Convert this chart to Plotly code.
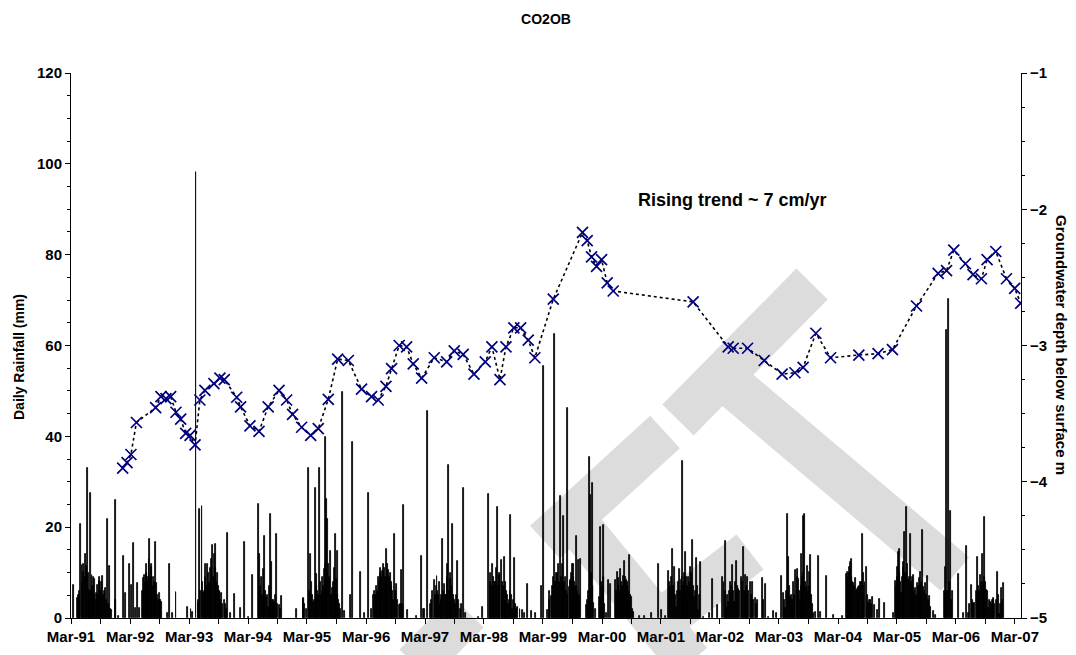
import pandas as pd
import plotly.graph_objects as go

# ---------------- data ----------------
BASE_DATE = "1991-03-01"          # day 0 of the day counts below

# groundwater level observations: days since 1 Mar 1991, depth below surface (m)
gw_day = [320, 347, 371, 405, 524, 557, 588, 617, 650, 679, 710, 737, 768, 798, 829,
          885, 922, 949, 1026, 1050, 1108, 1164, 1221, 1288, 1335, 1372, 1428, 1484,
          1531, 1593, 1651, 1717, 1799, 1861, 1902, 1950, 1985, 2032, 2078, 2119, 2171,
          2249, 2326, 2373, 2428, 2495, 2565, 2606, 2656, 2693, 2742, 2784, 2831, 2872,
          2986, 3167, 3196, 3223, 3254, 3285, 3320, 3357, 3852, 4069, 4100, 4189, 4292,
          4403, 4482, 4533, 4612, 4703, 4878, 4997, 5086, 5235, 5369, 5421, 5466, 5538,
          5585, 5637, 5672, 5726, 5792, 5843, 5880]
gw_depth = [-3.90, -3.86, -3.80, -3.565, -3.456, -3.375, -3.39, -3.375, -3.49, -3.54,
            -3.645, -3.66, -3.73, -3.40, -3.33, -3.28, -3.24, -3.25, -3.38, -3.45,
            -3.59, -3.63, -3.45, -3.33, -3.40, -3.505, -3.60, -3.66, -3.61, -3.395,
            -3.10, -3.11, -3.32, -3.375, -3.40, -3.30, -3.17, -3.00, -3.01, -3.135,
            -3.24, -3.09, -3.12, -3.04, -3.065, -3.21, -3.12, -3.01, -3.25, -3.01,
            -2.87, -2.87, -2.96, -3.09, -2.66, -2.17, -2.23, -2.35, -2.42, -2.37,
            -2.54, -2.60, -2.68, -3.01, -3.02, -3.02, -3.11, -3.21, -3.20, -3.16,
            -2.91, -3.09, -3.07, -3.06, -3.03, -2.71, -2.47, -2.45, -2.30, -2.40,
            -2.48, -2.51, -2.37, -2.31, -2.51, -2.58, -2.69]

# daily rainfall: (days since 1 Mar 1991, mm)
rain_1991_95 = [(14,7.3),(41,4.3),(46,5.0),(50,4.8),(55,6.0),(60,20.8),(68,11.7),(72,8.0),(76,10.2),(80,12.0),(87,14.2),(92,9.0),(97,11.5),(103,33.1),(108,10.0),(113,6.2),(117,5.5),(122,27.6),(126,6.0),(130,9.5),(134,7.0),(138,9.1),(143,5.0),(148,8.5),(155,5.4),(160,4.0),(165,7.3),(170,5.0),(174,9.0),(179,8.2),(185,6.0),(190,8.0),(196,9.2),(201,5.0),(206,6.0),(212,6.5),(218,4.0),(227,21.8),(232,3.0),(237,11.5),(242,2.0),(248,1.8),(274,4.0),(278,25.9),(293,0.5),(324,13.7),(336,5.6),(363,11.8),(373,7.3),(386,16.5),(398,2.1),(413,7.6),(427,2.3),(440,6.0),(448,8.7),(452,7.0),(458,9.5),(462,8.0),(466,12.0),(470,10.0),(474,9.1),(478,8.0),(483,13.0),(487,17.5),(492,9.0),(496,12.0),(501,11.3),(505,7.0),(510,9.1),(515,8.0),(520,6.0),(524,16.8),(530,7.6),(535,5.0),(540,4.0),(547,5.4),(552,3.0),(557,4.0),(563,3.6),(598,1.0),(611,12.0),(629,1.0),(650,5.7),(722,2.5),(743,1.9),(753,1.4),(774,98.2),(788,3.4),(792,4.0),(798,24.1),(803,6.0),(811,24.7),(816,8.0),(821,5.4),(826,6.0),(830,9.0),(835,12.0),(840,7.0),(846,12.0),(850,10.0),(856,7.6),(861,8.0),(866,11.0),(871,13.1),(877,16.1),(882,9.0),(887,14.2),(892,11.0),(897,16.4),(902,8.0),(908,9.8),(913,7.0),(917,6.0),(922,5.8),(928,4.0),(934,5.4),(940,3.0),(949,4.0),(955,3.0),(960,2.0),(970,18.7),(990,1.0),(1015,5.3),(1048,2.3),(1075,16.7),(1100,0.3),(1124,9.5),(1161,25.1),(1165,6.0),(1170,14.2),(1176,7.0),(1182,9.1),(1186,5.0),(1190,10.9),(1195,8.0),(1201,18.1),(1206,6.0),(1211,4.7),(1216,5.0),(1221,2.5),(1228,7.0),(1234,22.9),(1238,6.0),(1242,12.3),(1247,4.0),(1252,4.0),(1256,3.0),(1260,3.6),(1266,5.0),(1273,18.6),(1280,3.0),(1289,2.9),(1295,2.0),(1306,4.8),(1397,1.9),(1438,4.2)]

rain_1995_99 = [(1440,4.3),(1445,3.0),(1460,2.0),(1471,33.0),(1476,6.0),(1482,14.2),(1488,8.0),(1496,5.0),(1502,3.6),(1507,4.0),(1513,28.6),(1518,7.0),(1523,9.7),(1528,6.0),(1533,5.0),(1539,33.1),(1544,8.0),(1550,5.1),(1555,6.0),(1558,9.0),(1563,7.0),(1568,10.9),(1574,39.9),(1577,12.0),(1581,26.3),(1585,10.0),(1589,21.8),(1595,12.0),(1600,9.0),(1605,14.8),(1612,5.0),(1616,5.0),(1620,6.5),(1625,8.0),(1630,11.0),(1636,18.6),(1640,6.0),(1645,8.5),(1649,5.0),(1653,14.7),(1658,4.0),(1663,3.0),(1668,2.0),(1678,49.8),(1692,1.5),(1729,5.0),(1742,38.7),(1791,10.2),(1818,1.0),(1843,27.6),(1859,2.0),(1874,5.0),(1879,6.0),(1884,5.1),(1889,7.0),(1894,4.5),(1899,6.0),(1904,9.0),(1909,8.0),(1914,10.0),(1919,11.0),(1924,9.0),(1929,10.4),(1935,12.0),(1940,11.0),(1946,9.0),(1951,8.0),(1956,15.3),(1961,12.0),(1966,10.6),(1971,9.0),(1977,10.0),(1982,7.0),(1987,8.0),(1992,6.0),(1997,4.0),(2003,18.6),(2009,6.0),(2016,7.5),(2022,4.0),(2032,2.8),(2038,3.0),(2045,10.6),(2052,3.0),(2059,24.8),(2086,1.8),(2142,0.5),(2173,13.7),(2183,2.0),(2190,2.0),(2210,45.6),(2224,3.0),(2230,4.0),(2240,6.0),(2251,8.4),(2256,5.0),(2261,7.0),(2266,9.3),(2271,6.0),(2276,5.0),(2281,8.0),(2286,3.0),(2291,4.0),(2296,5.0),(2301,17.4),(2306,6.0),(2313,7.4),(2318,5.0),(2323,5.0),(2328,9.0),(2333,12.0),(2338,33.6),(2343,6.0),(2347,10.0),(2352,8.5),(2357,7.0),(2365,20.6),(2370,5.0),(2374,4.0),(2379,3.0),(2385,5.0),(2395,12.5),(2400,4.0),(2410,2.0),(2420,3.0),(2431,28.7),(2441,1.0),(2523,0.3),(2548,2.5),(2585,27.4),(2595,8.0),(2600,10.0),(2605,7.0),(2610,11.9),(2615,9.0),(2620,8.0),(2630,8.0),(2635,11.0),(2641,24.5),(2646,7.0),(2651,9.5),(2656,10.0),(2664,12.7),(2669,8.0),(2674,4.0),(2678,7.0),(2682,13.5),(2688,8.0),(2693,4.0),(2698,6.0),(2704,5.0),(2709,3.0),(2714,4.0),(2718,6.0),(2723,22.6),(2728,5.0),(2734,2.0),(2740,4.0),(2746,13.3),(2752,3.0),(2760,2.0),(2767,2.5),(2780,2.0),(2798,1.8),(2810,1.0),(2829,7.5),(2849,1.5),(2874,1.0)]

rain_1999_03 = [(2916,7.0),(2926,55.5),(2953,1.8),(2960,4.0),(2965,6.0),(2974,4.8),(2980,7.0),(2988,9.0),(2996,62.5),(3000,8.0),(3007,9.8),(3012,10.0),(3019,11.8),(3025,8.0),(3031,26.9),(3036,9.0),(3042,12.0),(3047,7.0),(3052,22.5),(3057,8.0),(3062,9.1),(3067,6.0),(3072,5.0),(3077,46.2),(3085,6.9),(3090,8.0),(3095,8.4),(3100,10.0),(3106,12.0),(3110,9.0),(3114,12.0),(3119,8.0),(3124,6.9),(3128,7.0),(3132,18.1),(3138,6.0),(3143,12.8),(3148,5.0),(3155,12.9),(3194,2.9),(3200,4.0),(3205,6.0),(3211,35.5),(3215,8.0),(3219,27.1),(3224,10.0),(3227,29.7),(3232,7.0),(3238,3.2),(3245,2.0),(3273,4.7),(3281,20.1),(3286,8.0),(3291,6.9),(3295,9.0),(3299,20.4),(3305,3.0),(3316,1.0),(3330,8.4),(3343,7.5),(3372,8.4),(3377,6.0),(3382,10.2),(3387,7.0),(3392,8.7),(3397,6.0),(3403,10.7),(3408,8.0),(3411,6.2),(3415,7.0),(3419,9.2),(3424,8.0),(3429,12.6),(3434,9.0),(3440,8.4),(3444,7.0),(3448,8.0),(3453,6.0),(3460,13.9),(3465,5.0),(3471,4.7),(3476,2.0),(3485,1.4),(3520,0.4),(3551,0.4),(3597,1.0),(3638,11.8),(3654,1.8),(3679,0.4),(3702,10.3),(3708,8.0),(3714,6.9),(3720,9.0),(3726,15.1),(3731,7.0),(3737,11.3),(3742,5.0),(3749,2.5),(3755,6.0),(3762,8.0),(3768,10.7),(3773,6.0),(3778,8.4),(3783,9.0),(3788,34.6),(3792,7.0),(3797,9.8),(3800,8.0),(3805,14.5),(3810,9.0),(3815,4.0),(3820,7.0),(3826,9.1),(3831,8.0),(3836,11.3),(3842,10.0),(3848,17.2),(3853,7.0),(3861,4.7),(3866,6.0),(3873,13.3),(3878,7.0),(3885,1.8),(3891,5.0),(3900,12.4),(3918,0.3),(3953,1.2),(3972,8.5),(4005,2.9),(4036,9.1),(4043,8.0),(4050,17.0),(4055,6.0),(4061,2.5),(4066,5.0),(4073,3.6),(4080,6.0),(4086,8.0),(4092,7.0),(4098,11.7),(4103,6.0),(4108,3.6),(4115,8.0),(4123,12.6),(4128,7.0),(4133,6.3),(4140,6.0),(4149,9.1),(4156,8.0),(4164,15.7),(4169,6.0),(4174,9.5),(4180,7.0),(4185,5.0),(4191,9.0),(4197,6.0),(4207,8.0),(4213,5.0),(4222,8.0),(4228,4.0),(4236,4.3),(4242,3.0),(4248,4.0),(4283,8.7),(4290,4.0),(4300,7.4),(4319,0.3),(4350,1.5),(4366,1.2)]

rain_2003_07 = [(4397,9.2),(4410,5.4),(4415,4.0),(4424,2.1),(4430,6.0),(4437,23.0),(4445,13.5),(4450,7.0),(4455,4.7),(4460,5.0),(4465,2.9),(4470,4.0),(4476,8.0),(4482,5.1),(4488,10.6),(4496,10.7),(4500,9.0),(4507,8.5),(4512,6.0),(4517,4.0),(4521,7.0),(4525,14.0),(4530,9.0),(4534,22.5),(4538,10.0),(4542,22.8),(4547,8.0),(4552,6.5),(4557,7.0),(4562,11.5),(4566,6.0),(4571,10.2),(4575,7.0),(4579,13.9),(4585,5.0),(4590,3.0),(4595,1.0),(4610,1.4),(4631,13.7),(4641,1.4),(4678,9.3),(4723,0.7),(4775,0.4),(4802,9.6),(4806,8.0),(4810,10.2),(4814,9.0),(4818,11.3),(4822,10.0),(4827,12.4),(4831,9.0),(4835,12.9),(4840,8.0),(4847,7.6),(4852,7.0),(4857,8.9),(4863,6.0),(4868,6.3),(4873,5.0),(4878,6.9),(4883,7.0),(4888,8.0),(4895,8.0),(4901,18.4),(4905,7.0),(4909,10.0),(4916,8.0),(4923,11.2),(4929,5.0),(4936,3.2),(4943,4.0),(4950,4.0),(4958,3.0),(4965,4.6),(4977,2.9),(4992,1.8),(5004,4.1),(5037,3.2),(5091,1.0),(5103,8.1),(5110,7.0),(5115,11.3),(5120,9.0),(5124,14.5),(5128,10.0),(5132,15.3),(5137,8.0),(5142,5.4),(5147,9.0),(5152,12.4),(5157,11.0),(5163,19.0),(5168,10.0),(5173,24.4),(5178,12.0),(5183,8.4),(5190,9.0),(5198,18.6),(5203,8.0),(5208,9.1),(5213,7.0),(5218,9.5),(5224,6.0),(5229,6.5),(5234,5.0),(5239,7.6),(5245,7.0),(5254,8.7),(5258,6.0),(5262,10.2),(5267,8.0),(5272,19.4),(5280,6.9),(5285,6.0),(5291,7.6),(5297,5.0),(5303,9.2),(5308,4.0),(5313,4.8),(5322,2.5),(5338,1.6),(5353,0.7),(5408,6.0),(5413,5.0),(5417,11.3),(5423,63.4),(5428,6.0),(5431,70.2),(5438,8.0),(5445,23.6),(5452,4.0),(5460,5.9),(5497,9.7),(5524,1.0),(5544,15.9),(5559,1.0),(5565,3.0),(5577,7.3),(5582,4.0),(5588,3.2),(5596,3.4),(5605,6.0),(5613,13.5),(5617,7.0),(5621,4.7),(5626,6.0),(5631,9.5),(5636,8.0),(5641,14.2),(5648,7.6),(5653,9.0),(5658,22.3),(5662,8.0),(5666,6.2),(5672,6.0),(5683,2.1),(5688,4.0),(5693,3.6),(5698,3.0),(5703,4.0),(5709,4.0),(5714,4.3),(5720,3.0),(5730,4.0),(5738,10.1),(5743,5.0),(5749,0.8),(5755,3.0),(5761,6.5),(5767,4.0),(5773,7.8)]

x_range_days = [0, 5882]
y_rain_range = [0, 120]
y_gw_range = [-5, -1]

# ---------------- build ----------------
base = pd.Timestamp(BASE_DATE)
rain = rain_1991_95 + rain_1995_99 + rain_1999_03 + rain_2003_07
rain_dates = [base + pd.Timedelta(days=d) for d, _ in rain]
rain_mm = [v for _, v in rain]
gw_dates = [base + pd.Timedelta(days=d) for d in gw_day]

FONT = "Liberation Sans, Arial, sans-serif"
DAY_MS = 86400000
W, H = 1076, 655

fig = go.Figure()
fig.add_trace(go.Bar(
    x=rain_dates, y=rain_mm, width=6 * DAY_MS,
    marker=dict(color="black", line=dict(color="black", width=0.8)),
    yaxis="y", showlegend=False, hoverinfo="x+y"))
fig.add_trace(go.Scatter(
    x=gw_dates, y=gw_depth, mode="lines+markers", yaxis="y2",
    line=dict(color="black", width=1.6, dash="dot"),
    marker=dict(symbol="x-thin", size=11, color="#000080",
                line=dict(color="#000080", width=1.7)),
    showlegend=False))

# decorative grey watermark bands (figure pixel coordinates)
L, R, T, B = 71, 1021, 73, 618
def px(x, y):
    return (x - L) / (R - L), (B - y) / (B - T)
bands = [((678, 420), (812, 284)), ((665, 432), (545, 542)), ((735, 388), (955, 574)),
         ((572, 518), (690, 662)), ((652, 628), (750, 552)), ((468, 612), (415, 665))]
shapes = []
for (a, b) in bands:
    x0, y0 = px(*a)
    x1, y1 = px(*b)
    shapes.append(dict(type="line", xref="paper", yref="paper", x0=x0, y0=y0, x1=x1, y1=y1,
                       line=dict(color="#dcdcdc", width=44), layer="below"))

tick_font = dict(family=FONT, size=15, color="black", weight="bold")
fig.update_layout(
    width=W, height=H,
    margin=dict(l=L, r=W - R, t=T, b=H - B, autoexpand=False),
    paper_bgcolor="white", plot_bgcolor="rgba(0,0,0,0)",
    bargap=0,
    title=dict(text="CO2OB", x=546 / W, xanchor="center", y=1 - 19 / H, yanchor="middle",
               font=dict(family=FONT, size=14, color="black", weight="bold")),
    xaxis=dict(type="date",
               range=[base + pd.Timedelta(days=x_range_days[0]), base + pd.Timedelta(days=x_range_days[1])],
               tick0=BASE_DATE, dtick="M12", tickformat="%b-%y",
               ticks="outside", ticklen=5, tickwidth=1, tickcolor="black",
               minor=dict(dtick="M6", tick0=BASE_DATE, ticks="outside", ticklen=5, tickcolor="black"),
               showline=True, linecolor="black", linewidth=1, showgrid=False, zeroline=False,
               tickfont=tick_font, automargin=False),
    yaxis=dict(range=y_rain_range, dtick=20, ticks="outside", ticklen=5, tickcolor="black",
               minor=dict(dtick=5, ticks="outside", ticklen=3, tickcolor="black"),
               showline=True, linecolor="black", linewidth=1, showgrid=False, zeroline=False,
               tickfont=tick_font, automargin=False),
    yaxis2=dict(range=y_gw_range, dtick=1, overlaying="y", side="right",
                ticks="outside", ticklen=5, tickcolor="black",
                minor=dict(dtick=0.25, ticks="outside", ticklen=3, tickcolor="black"),
                showline=True, linecolor="black", linewidth=1, showgrid=False, zeroline=False,
                tickfont=tick_font, automargin=False),
    shapes=shapes,
    annotations=[
        dict(text="Daily Rainfall (mm)", xref="paper", yref="paper", x=(19 - L) / (R - L), y=(B - 357) / (B - T),
             textangle=-90, showarrow=False, font=dict(family=FONT, size=14, color="black", weight="bold"),
             xanchor="center", yanchor="middle"),
        dict(text="Groundwater depth below surface m", xref="paper", yref="paper",
             x=(1062 - L) / (R - L), y=(B - 345) / (B - T), textangle=90, showarrow=False,
             font=dict(family=FONT, size=15, color="black", weight="bold"),
             xanchor="center", yanchor="middle"),
        dict(text="Rising trend ~ 7 cm/yr", xref="paper", yref="paper",
             x=(732 - L) / (R - L), y=(B - 200) / (B - T), showarrow=False,
             font=dict(family=FONT, size=18, color="black", weight="bold"),
             xanchor="center", yanchor="middle"),
    ],
)

# the page body normally has an 8px margin; remove it so the figure sits at the window origin
fig.write_html("out.html", config={"displayModeBar": False},
               post_script="document.body.style.margin='0';document.body.style.overflow='hidden';")
